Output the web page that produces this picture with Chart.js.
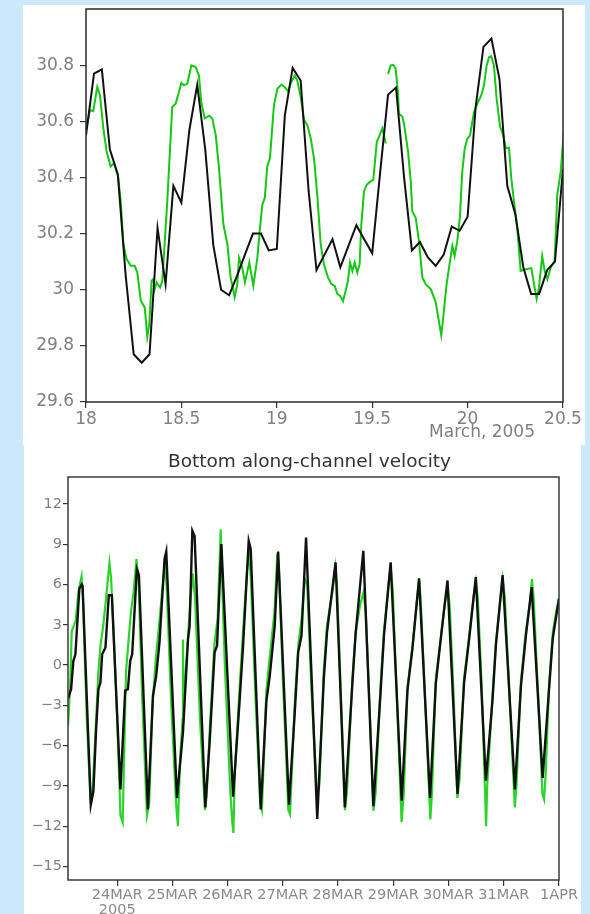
<!DOCTYPE html>
<html lang="en">
<head>
<meta charset="UTF-8">
<title>Surface elevation and bottom velocity, March 2005</title>
<script src="https://cdn.jsdelivr.net/npm/chart.js"></script>
<style>
    body { margin: 0; background: #cbe9fb; font-family: "DejaVu Sans", sans-serif; }
    .panel { position: absolute; background: #fff; }
    #p1 { left: 23px; top: 5px; width: 562px; height: 440px; }
    #p2 { left: 24px; top: 445px; width: 557px; height: 469px; }
</style>
</head>
<body>
<div class="panel" id="p1"><canvas id="elevChart" width="562" height="440"></canvas></div>
<div class="panel" id="p2"><canvas id="velChart" width="557" height="469"></canvas></div>
<script>
// ---- top panel: elevation, March 18-20.5 (days) ----
var elevTicksX = [18, 18.5, 19, 19.5, 20, 20.5];
var elevTicksY = [29.6, 29.8, 30, 30.2, 30.4, 30.6, 30.8];

// model (black), hourly
var modelElevT = [18.000,18.042,18.083,18.125,18.167,18.208,18.250,18.292,18.333,18.375,18.417,18.458,
    18.500,18.542,18.583,18.625,18.667,18.708,18.750,18.792,18.833,18.875,18.917,18.958,
    19.000,19.042,19.083,19.125,19.167,19.208,19.250,19.292,19.333,19.375,19.417,19.458,
    19.500,19.542,19.583,19.625,19.667,19.708,19.750,19.792,19.833,19.875,19.917,19.958,
    20.000,20.042,20.083,20.125,20.167,20.208,20.250,20.292,20.333,20.375,20.417,20.458,20.500];
var modelElev = [30.55,30.77,30.785,30.50,30.41,30.05,29.77,29.74,29.77,30.22,30.02,30.37,
    30.31,30.57,30.73,30.50,30.16,30.00,29.98,30.05,30.125,30.20,30.20,30.14,
    30.145,30.62,30.79,30.745,30.35,30.07,30.125,30.18,30.08,30.155,30.23,30.18,
    30.13,30.42,30.695,30.72,30.40,30.14,30.17,30.115,30.085,30.125,30.225,30.21,
    30.26,30.65,30.865,30.895,30.75,30.37,30.27,30.08,29.985,29.985,30.07,30.10,30.43];

// observed (green), null = gap in record
var obsElevT = [18.000,18.021,18.038,18.059,18.073,18.091,18.108,18.129,18.147,18.168,18.182,18.196,
    18.213,18.234,18.255,18.269,18.287,18.308,18.321,18.332,18.344,18.353,18.360,18.370,18.388,18.400,
    18.426,18.452,18.470,18.487,18.500,18.514,18.531,18.552,18.575,18.592,18.604,18.622,18.645,18.662,
    18.680,18.697,18.720,18.741,18.758,18.779,18.793,18.802,18.819,18.833,18.856,18.877,18.898,18.912,
    18.924,18.937,18.950,18.964,18.985,19.003,19.024,19.041,19.059,19.076,19.094,19.107,19.125,19.143,
    19.160,19.178,19.195,19.212,19.230,19.247,19.268,19.286,19.303,19.317,19.331,19.347,19.361,19.373,
    19.384,19.396,19.408,19.422,19.434,19.443,19.457,19.471,19.488,19.506,19.524,19.536,19.553,19.571,
    19.577,
    19.583,19.597,19.611,19.623,19.635,19.640,19.658,19.667,19.688,19.702,19.710,19.728,19.745,19.763,
    19.780,19.807,19.833,19.846,19.862,19.876,19.890,19.908,19.920,19.932,19.946,19.960,19.972,19.985,
    19.998,20.013,20.034,20.051,20.072,20.086,20.100,20.112,20.124,20.138,20.152,20.170,20.187,20.200,
    20.217,20.229,20.243,20.260,20.278,20.304,20.334,20.348,20.362,20.374,20.391,20.404,20.418,20.436,
    20.456,20.470,20.488,20.505];
var obsElev = [30.57,30.64,30.636,30.722,30.693,30.575,30.492,30.439,30.451,30.404,30.315,30.162,
    30.109,30.085,30.085,30.061,29.961,29.937,29.831,29.879,30.032,30.038,30.002,30.026,30.008,30.032,
    30.315,30.651,30.663,30.704,30.737,30.728,30.734,30.799,30.793,30.763,30.669,30.61,30.62,30.61,
    30.551,30.433,30.233,30.162,30.044,29.973,30.02,30.114,30.079,30.026,30.097,30.014,30.114,30.22,
    30.303,30.327,30.439,30.468,30.657,30.716,30.731,30.722,30.707,30.74,30.763,30.746,30.687,30.604,
    30.586,30.539,30.468,30.339,30.162,30.091,30.044,30.02,30.014,29.985,29.979,29.959,29.996,30.032,
    30.097,30.067,30.097,30.061,30.091,30.233,30.35,30.374,30.384,30.392,30.527,30.545,30.575,30.521,
    null,
    30.769,30.799,30.801,30.787,30.704,30.628,30.616,30.59,30.492,30.386,30.28,30.256,30.173,30.044,
    30.02,30.002,29.955,29.902,29.837,29.926,30.02,30.103,30.156,30.12,30.173,30.262,30.421,30.504,
    30.537,30.551,30.634,30.663,30.693,30.728,30.799,30.828,30.832,30.799,30.681,30.581,30.551,30.504,
    30.506,30.397,30.315,30.221,30.067,30.073,30.077,30.02,29.967,30.008,30.12,30.067,30.038,30.079,
    30.103,30.339,30.421,30.569];

// ---- bottom panel: bottom along-channel velocity, day of March ----
var velTicksX = [24, 25, 26, 27, 28, 29, 30, 31, 32];
var velTicksY = [-15, -12, -9, -6, -3, 0, 3, 6, 9, 12];

var modelVelT = [23.11,23.166,23.207,23.244,23.316,23.36,23.374,23.523,23.57,23.619,23.661,23.697,
    23.728,23.788,23.849,23.904,24.06,24.145,24.194,24.236,24.272,24.357,24.394,24.557,24.648,24.707,
    24.767,24.858,24.889,25.083,25.192,25.283,25.312,25.361,25.402,25.596,25.674,25.765,25.809,25.887,
    26.099,26.219,26.28,26.382,26.418,26.6,26.703,26.763,26.853,26.915,27.111,27.216,27.278,27.338,
    27.42,27.623,27.742,27.8,27.955,28.123,28.258,28.317,28.457,28.638,28.771,28.831,28.952,29.152,
    29.255,29.346,29.466,29.665,29.769,29.859,29.981,30.162,30.282,30.373,30.494,30.676,30.797,30.857,
    30.979,31.202,31.311,31.401,31.505,31.704,31.824,31.886,32.0];
var modelVel = [-2.5,-1.8,0.3,0.8,5.7,6.0,5.9,-10.4,-9.4,-4.8,-1.8,-1.3,
    0.8,1.3,5.2,5.2,-9.25,-1.9,-1.8,0.3,0.8,7.15,6.7,-10.75,-2.3,-0.8,
    1.7,7.9,8.45,-9.9,-5.0,1.9,2.9,10.0,9.6,-10.6,-5.8,0.95,1.45,9.0,
    -9.8,-2.55,1.45,9.25,8.65,-10.75,-2.65,-0.8,2.9,8.45,-10.4,-3.5,0.95,2.2,
    9.5,-11.45,-1.0,2.45,7.65,-10.6,-1.4,2.3,8.5,-10.5,-1.9,2.2,7.65,-10.1,
    -1.9,1.2,6.45,-9.9,-1.4,1.95,6.3,-9.6,-1.3,1.95,6.55,-8.6,-2.55,1.45,
    6.7,-9.25,-1.55,2.2,5.8,-8.4,-1.55,1.95,4.95];

var obsVelT = [23.111,23.15,23.177,23.25,23.30,23.355,23.38,23.45,23.52,23.56,
    23.62,23.66,23.70,23.75,23.80,23.86,23.89,23.93,24.00,24.06,
    24.10,24.13,24.16,24.21,24.25,24.30,24.35,24.39,24.45,24.54,
    24.58,24.64,24.70,24.76,24.83,24.87,24.90,24.98,25.07,25.10,
    25.14,25.185,25.192,25.20,25.28,25.33,25.37,25.41,25.50,25.59,
    25.62,25.68,25.76,25.82,25.875,25.89,25.95,26.05,26.085,26.105,
    26.13,26.22,26.28,26.35,26.385,26.42,26.50,26.59,26.62,26.70,
    26.76,26.85,26.90,26.93,27.00,27.10,27.13,27.22,27.28,27.34,
    27.40,27.44,27.52,27.62,27.66,27.74,27.80,27.90,27.95,27.98,
    28.05,28.125,28.16,28.26,28.32,28.40,28.46,28.50,28.56,28.64,
    28.68,28.77,28.83,28.90,28.95,28.99,29.06,29.15,29.19,29.26,
    29.35,29.42,29.47,29.50,29.58,29.67,29.70,29.77,29.86,29.93,
    29.985,30.02,30.09,30.16,30.20,30.28,30.37,30.45,30.495,30.53,
    30.60,30.68,30.70,30.80,30.86,30.93,30.98,31.02,31.10,31.20,
    31.23,31.31,31.40,31.47,31.51,31.54,31.62,31.70,31.73,31.76,
    31.82,31.89,31.95,32.0];
var obsVel = [-4.5,-1.5,2.5,3.3,5.5,6.6,5.0,-4,-10.3,-9.0,
    -4.0,-0.5,1.5,3.0,5.0,7.6,6.5,3,-4,-11.2,
    -11.7,-6,-0.5,2.0,4.0,5.5,7.9,6.0,-2,-11.2,
    -10.3,-3.0,0.5,3.0,6.2,7.5,5.5,-3,-10.5,-12.0,
    -7,-4,1.9,-3,2.0,5.0,6.8,5.0,-4,-10.8,
    -9.8,-4.5,1.5,3.5,10.1,7.5,0,-9.5,-11.7,-12.5,
    -8,-1.5,2.5,7.0,8.5,6.5,-2,-10.3,-10.8,-2.0,
    0.5,4.0,8.3,7.0,-1,-10.8,-11.1,-2.5,1.5,3.5,
    6.4,6.0,-2,-9.7,-9.0,-0.5,3.0,5.5,7.3,6.0,
    -2,-10.8,-9.5,-1.0,2.5,4.5,5.4,4.0,-2,-10.85,
    -9.5,-1.5,2.5,5.5,7.4,5.5,-2,-11.7,-9.5,-1.5,
    1.5,4.5,6.3,4.5,-3,-11.5,-9.5,-1.0,2.0,4.5,
    5.8,4.5,-2,-9.9,-8.5,-1.0,2.0,5.0,6.2,5.0,
    -1.5,-12.0,-9.0,-2.0,1.8,4.5,6.4,5.0,-2,-10.6,
    -9.0,-1.2,2.5,4.5,6.4,5.0,-2,-9.6,-10.0,-8,
    -1.5,2.5,4.0,5.0];

function pts(t, v) {
    return t.map(function (x, i) { return { x: x, y: v[i] }; });
}

// frame around the plot area
var boxPlugin = {
    id: 'box',
    afterDatasetsDraw: function (chart, args, opts) {
        var a = chart.chartArea, ctx = chart.ctx;
        ctx.save();
        ctx.strokeStyle = opts.color || '#333';
        ctx.lineWidth = opts.width || 1.5;
        ctx.strokeRect(a.left, a.top, a.right - a.left, a.bottom - a.top);
        ctx.restore();
    }
};

// free text placed relative to the plot area (caption, panel title)
var notesPlugin = {
    id: 'notes',
    afterDraw: function (chart, args, opts) {
        var a = chart.chartArea, ctx = chart.ctx;
        (opts.items || []).forEach(function (n) {
            var x = n.from === 'center' ? (a.left + a.right) / 2 : a.right;
            var y = n.edge === 'top' ? a.top : a.bottom;
            ctx.save();
            ctx.font = n.size + 'px "DejaVu Sans"';
            ctx.fillStyle = n.color;
            ctx.textAlign = n.align;
            ctx.textBaseline = 'middle';
            ctx.fillText(n.text, x + n.dx, y + n.dy);
            ctx.restore();
        });
    }
};

function fmtNum(v) { return String(Number(v.toFixed(1))); }

// fixed axis sizes, and no extra room reserved for edge labels
function fixX(h) { return function (s) { s.height = h; s.paddingLeft = 0; s.paddingRight = 0; }; }
function fixY(w) { return function (s) { s.width = w; s.paddingTop = 0; s.paddingBottom = 0; }; }

new Chart(document.getElementById('elevChart'), {
    type: 'line',
    data: {
        datasets: [{
            label: 'model',
            data: pts(modelElevT, modelElev),
            borderColor: '#111',
            borderWidth: 2,
            order: 1
        }, {
            label: 'observed',
            data: pts(obsElevT, obsElev),
            borderColor: '#14c814',
            borderWidth: 2,
            spanGaps: false,
            order: 2
        }]
    },
    options: {
        responsive: false,
        animation: false,
        devicePixelRatio: 1,
        layout: { padding: { top: 4, right: 22, left: 0, bottom: 0 } },
        elements: { point: { radius: 0 }, line: { tension: 0 } },
        plugins: {
            legend: { display: false },
            tooltip: { enabled: false },
            box: { color: '#2a2a2a', width: 1.5 },
            notes: { items: [
                { text: 'March, 2005', size: 17, color: '#808080', from: 'right', edge: 'bottom', align: 'right', dx: -28, dy: 31 }
            ] }
        },
        scales: {
            x: {
                type: 'linear', min: 18, max: 20.5,
                afterBuildTicks: function (s) { s.ticks = elevTicksX.map(function (v) { return { value: v }; }); },
                afterFit: fixX(43),
                border: { display: false },
                grid: { drawOnChartArea: false, drawTicks: true, tickLength: 6, color: '#333', lineWidth: 1.2 },
                ticks: { color: '#808080', font: { family: 'DejaVu Sans', size: 17 }, padding: 1, maxRotation: 0,
                         callback: function (v) { return fmtNum(v); } }
            },
            y: {
                min: 29.6, max: 31.0,
                afterBuildTicks: function (s) { s.ticks = elevTicksY.map(function (v) { return { value: v }; }); },
                afterFit: fixY(63),
                border: { display: false },
                grid: { drawOnChartArea: false, drawTicks: true, tickLength: 6, color: '#333', lineWidth: 1.2 },
                ticks: { color: '#808080', font: { family: 'DejaVu Sans', size: 17 }, padding: 6,
                         callback: function (v) { return fmtNum(v); } }
            }
        }
    },
    plugins: [boxPlugin, notesPlugin]
});

new Chart(document.getElementById('velChart'), {
    type: 'line',
    data: {
        datasets: [{
            label: 'model',
            data: pts(modelVelT, modelVel),
            borderColor: '#111',
            borderWidth: 2.4,
            order: 1
        }, {
            label: 'observed',
            data: pts(obsVelT, obsVel),
            borderColor: '#2ad42a',
            borderWidth: 2.2,
            order: 2
        }]
    },
    options: {
        responsive: false,
        animation: false,
        devicePixelRatio: 1,
        layout: { padding: { top: 32, right: 22, left: 0, bottom: 0 } },
        elements: { point: { radius: 0 }, line: { tension: 0 } },
        plugins: {
            legend: { display: false },
            tooltip: { enabled: false },
            box: { color: '#3a3a3a', width: 1.5 },
            notes: { items: [
                { text: 'Bottom along-channel velocity', size: 18.5, color: '#333', from: 'center', edge: 'top', align: 'center', dx: -4, dy: -15 }
            ] }
        },
        scales: {
            x: {
                type: 'linear', min: 23.11, max: 32.0,
                afterBuildTicks: function (s) { s.ticks = velTicksX.map(function (v) { return { value: v }; }); },
                afterFit: fixX(34),
                border: { display: false },
                grid: { drawOnChartArea: false, drawTicks: true, tickLength: 6, color: '#333', lineWidth: 1.2 },
                ticks: { color: '#8a8a8a', font: { family: 'DejaVu Sans', size: 14.5, lineHeight: 1.02 }, padding: 2, maxRotation: 0,
                         callback: function (v) {
                             if (v === 32) return '1APR';
                             if (v === 24) return ['24MAR', '2005'];
                             return v + 'MAR';
                         } }
            },
            y: {
                min: -16, max: 14,
                afterBuildTicks: function (s) { s.ticks = velTicksY.map(function (v) { return { value: v }; }); },
                afterFit: fixY(44),
                border: { display: false },
                grid: { drawOnChartArea: false, drawTicks: true, tickLength: 5, color: '#333', lineWidth: 1.2 },
                ticks: { color: '#808080', font: { family: 'DejaVu Sans', size: 14.5 }, padding: 1,
                         callback: function (v) { return v < 0 ? '\u2212' + Math.abs(v) : String(v); } }
            }
        }
    },
    plugins: [boxPlugin, notesPlugin]
});
</script>
</body>
</html>
